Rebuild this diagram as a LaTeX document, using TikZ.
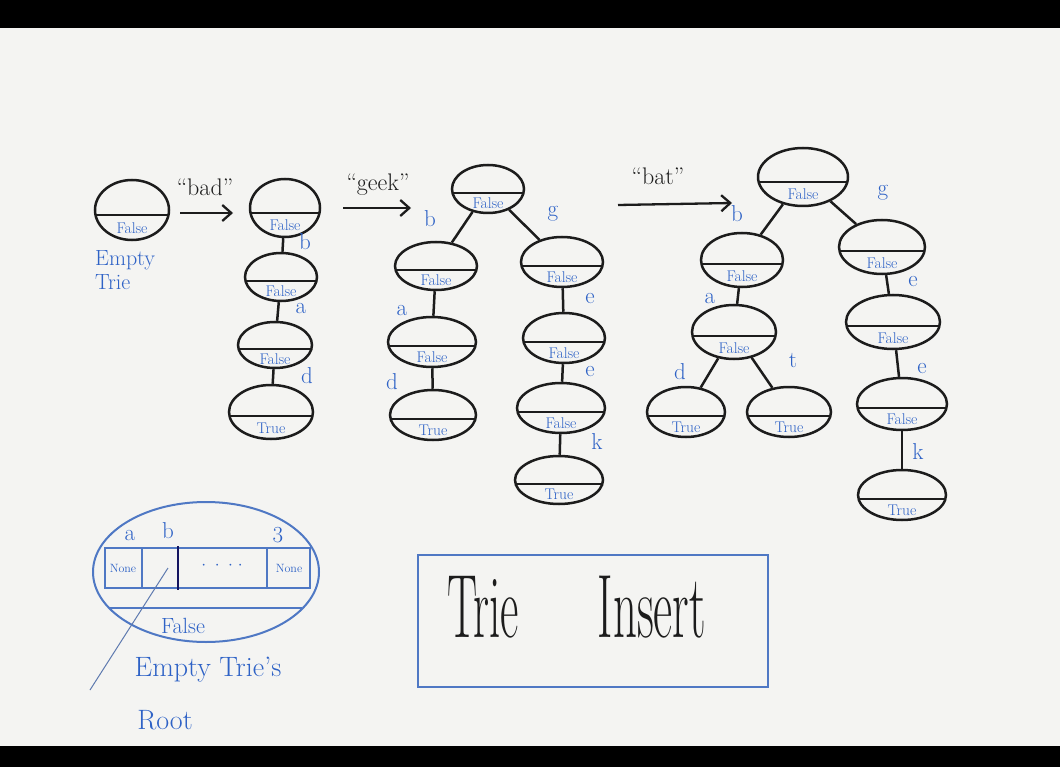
\documentclass[tikz,border=0pt]{standalone}
\usetikzlibrary{shapes.geometric,arrows.meta,calc}
\definecolor{board}{HTML}{F4F4F2}
\definecolor{ink}{HTML}{1C1C1C}
\definecolor{pen}{HTML}{2E62C6}
\definecolor{pale}{HTML}{4F78C4}
\tikzset{
  tnode/.style={ellipse, draw=ink, line width=2.5pt, inner sep=0pt,
    path picture={\draw[ink, line width=1.8pt]
      ($(path picture bounding box.south west)!0.42!(path picture bounding box.north west)$) --
      ($(path picture bounding box.south east)!0.42!(path picture bounding box.north east)$);}},
  tlab/.style={pen, inner sep=0pt, font=\fontsize{15.5}{15.5}\selectfont},
  elab/.style={pen, inner sep=0pt, font=\fontsize{23}{23}\selectfont},
  edge/.style={ink, line width=2.5pt},
  arr/.style={ink, line width=2.3pt, -{Straight Barb[length=9pt,width=16pt,line width=2.3pt]}},
  word/.style={ink, inner sep=0pt, font=\fontsize{24}{24}\selectfont},
  note/.style={pen, inner sep=0pt, font=\fontsize{22}{24}\selectfont, align=left},
}
\newcommand{\trienode}[6]{\node[tnode, minimum width={2*#4pt}, minimum height={2*#5pt},
  label={[tlab, yshift={-0.6*#5pt}]center:#6}] (#1) at (#2,#3) {};}
\begin{document}
\begin{tikzpicture}[x=1pt, y=-1pt]
\useasboundingbox (0,0) rectangle (1060,767);
\fill[black] (0,0) rectangle (1060,767);
\fill[board] (0,28) rectangle (1060,746);

% empty trie
\trienode{empty}{132}{210}{37}{30}{False}
\node[note, anchor=north west] (emptytxt) at (95,250) {Empty\\Trie};

% arrow bad
\coordinate (a1s) at (180,213); \coordinate (a1e) at (233,213);
\draw[arr] (a1s) -- (a1e);
\node[word] (bad) at (205,187) {``bad''};

% chain bad
\trienode{c1}{285}{208}{35}{29}{False}
\trienode{c2}{281}{277}{36}{24}{False}
\trienode{c3}{275}{345}{37}{23}{False}
\trienode{c4}{271}{412}{42}{27}{True}
\draw[edge] (c1) -- (c2); \draw[edge] (c2) -- (c3); \draw[edge] (c3) -- (c4);
\node[elab] (lc1) at (305,242) {b};
\node[elab] (lc2) at (301,309) {a};
\node[elab] (lc3) at (307,376) {d};

% arrow geek
\coordinate (a2s) at (343,208); \coordinate (a2e) at (411,208);
\draw[arr] (a2s) -- (a2e);
\node[word] (geek) at (378,185) {``geek''};

% tree geek
\trienode{g0}{488}{189}{36}{24}{False}
\trienode{g1}{436}{266}{41}{24}{False}
\trienode{g2}{432}{342}{44}{25}{False}
\trienode{g3}{433}{415}{43}{25}{True}
\trienode{g4}{562}{262}{41}{25}{False}
\trienode{g5}{564}{338}{41}{25}{False}
\trienode{g6}{561}{408}{44}{25}{False}
\trienode{g7}{559}{480}{44}{24}{True}
\draw[edge] (g0) -- (g1); \draw[edge] (g1) -- (g2); \draw[edge] (g2) -- (g3);
\draw[edge] (g0) -- (g4); \draw[edge] (g4) -- (g5); \draw[edge] (g5) -- (g6); \draw[edge] (g6) -- (g7);
\node[elab] (lg1) at (430,219) {b};
\node[elab] (lg2) at (402,311) {a};
\node[elab] (lg3) at (392,382) {d};
\node[elab] (lg4) at (553,214) {g};
\node[elab] (lg5) at (590,299) {e};
\node[elab] (lg6) at (590,372) {e};
\node[elab] (lg7) at (597,442) {k};

% arrow bat
\coordinate (a3s) at (618,205); \coordinate (a3e) at (732,203);
\draw[arr] (a3s) -- (a3e);
\node[word] (bat) at (658,176) {``bat''};

% tree bat
\trienode{h0}{803}{177}{45}{29}{False}
\trienode{h1}{742}{260}{41}{27}{False}
\trienode{h2}{734}{332}{42}{27}{False}
\trienode{h3}{686}{412}{39}{25}{True}
\trienode{h4}{789}{412}{42}{25}{True}
\trienode{h5}{882}{247}{43}{27}{False}
\trienode{h6}{893}{322}{47}{27}{False}
\trienode{h7}{902}{404}{45}{26}{False}
\trienode{h8}{902}{495}{44}{25}{True}
\draw[edge] (h0) -- (h1); \draw[edge] (h1) -- (h2); \draw[edge] (h2) -- (h3); \draw[edge] (h2) -- (h4);
\draw[edge] (h0) -- (h5); \draw[edge] (h5) -- (h6); \draw[edge] (h6) -- (h7); \draw[edge] (h7) -- (h8);
\node[elab] (lh1) at (737,214) {b};
\node[elab] (lh2) at (710,299) {a};
\node[elab] (lh3) at (680,372) {d};
\node[elab] (lh4) at (793,361) {t};
\node[elab] (lh5) at (883,193) {g};
\node[elab] (lh6) at (913,282) {e};
\node[elab] (lh7) at (922,369) {e};
\node[elab] (lh8) at (918,452) {k};

% root structure sketch
\draw[pale, line width=2pt] (206,572) ellipse [x radius=113, y radius=70];
\draw[pale, line width=1.6pt] (105,548) rectangle (310,588);
\draw[pale, line width=1.6pt] (142,548) -- (142,588);
\draw[ink!70!blue, line width=2.4pt] (178,546) -- (178,590);
\draw[pale, line width=1.6pt] (267,548) -- (267,588);
\node[pen, inner sep=0pt, font=\fontsize{12}{12}\selectfont] (none1) at (123,568) {None};
\node[pen, inner sep=0pt, font=\fontsize{12}{12}\selectfont] (none2) at (289,568) {None};
\node[pen, inner sep=0pt, font=\fontsize{18}{18}\selectfont] (dots) at (222,566) {$\cdot\;\cdot\;\cdot\;\cdot$};
\node[elab] (ka) at (130,536) {a};
\node[elab] (kb) at (168,531) {b};
\node[elab] (kz) at (278,535) {3};
\draw[pale, line width=1.6pt] (109,608) -- (302,608);
\node[note] (rootfalse) at (183,626) {False};
\coordinate (ptrs) at (168,568); \coordinate (ptre) at (90,690);
\draw[pale!70!gray, line width=1pt] (ptrs) -- (ptre);
\node[pen, inner sep=0pt, font=\fontsize{28}{28}\selectfont] (rootcap) at (208,670) {Empty Trie's};
\node[pen, inner sep=0pt, font=\fontsize{28}{28}\selectfont] (rootword) at (165,720) {Root};

% title
\node[draw=pale, line width=1.8pt, minimum width=350pt, minimum height=132pt] (title) at (593,621) {};
\node[ink, inner sep=0pt, anchor=base, font=\fontsize{90}{90}\selectfont] (t1) at (483,637) {\scalebox{0.5}[1]{Trie}};
\node[ink, inner sep=0pt, anchor=base, font=\fontsize{90}{90}\selectfont] (t2) at (652,637) {\scalebox{0.52}[1]{Insert}};
\end{tikzpicture}
\end{document}
